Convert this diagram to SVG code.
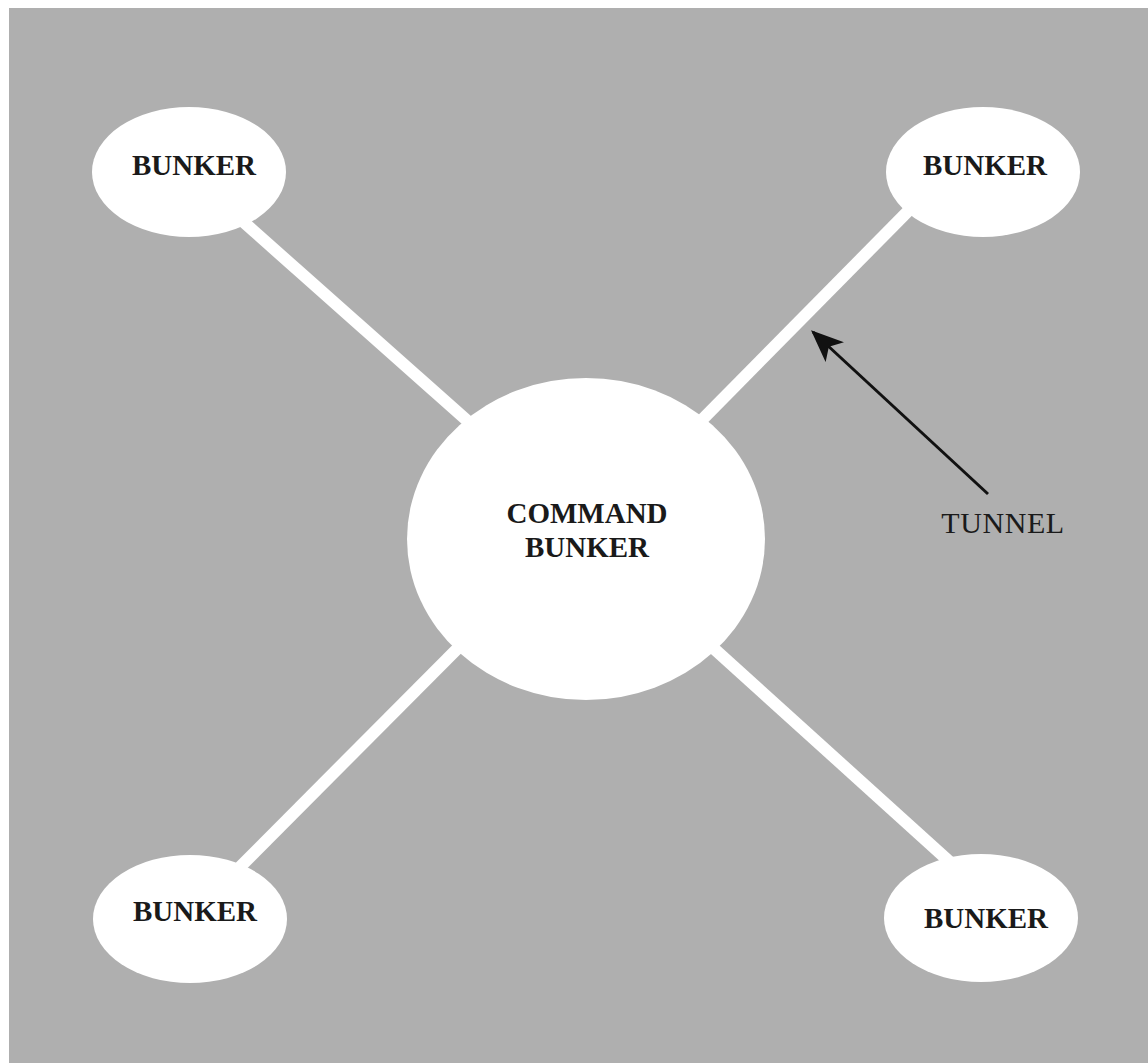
<svg xmlns="http://www.w3.org/2000/svg" width="1148" height="1063" viewBox="0 0 1148 1063">
  <style>
    .tunnel { stroke: #ffffff; stroke-width: 12; fill: none; }
    .bunker { fill: #ffffff; }
    .label { font-family: "Liberation Serif", "Times New Roman", serif; font-size: 29px; font-weight: bold; fill: #1a1a1a; text-anchor: middle; }
    .note { font-family: "Liberation Serif", "Times New Roman", serif; font-size: 30px; fill: #1a1a1a; text-anchor: middle; letter-spacing: 0.6px; }
  </style>
  <defs>
    <marker id="arrowhead" viewBox="0 0 12 10" refX="11" refY="5" markerWidth="11" markerHeight="9" markerUnits="strokeWidth" orient="auto">
      <path d="M0,0 L12,5 L0,10 L3,5 Z" fill="#111111"/>
    </marker>
  </defs>

  <rect x="0" y="0" width="1148" height="1063" fill="#ffffff"/>
  <rect x="9" y="8" width="1139" height="1055" fill="#afafaf"/>

  <!-- tunnels linking the outer bunkers to the command bunker -->
  <g id="connectors">
    <line class="tunnel" x1="230" y1="210" x2="480" y2="432"/>
    <line class="tunnel" x1="920" y1="199" x2="690" y2="432"/>
    <line class="tunnel" x1="470" y1="636" x2="232" y2="875"/>
    <line class="tunnel" x1="700" y1="636" x2="962" y2="873"/>
    <line x1="988" y1="494" x2="813" y2="332" stroke="#111111" stroke-width="3" marker-end="url(#arrowhead)"/>
  </g>

  <g id="bunker-nw">
    <ellipse class="bunker" cx="189" cy="172" rx="97" ry="65"/>
    <text class="label" x="194" y="175">BUNKER</text>
  </g>
  <g id="bunker-ne">
    <ellipse class="bunker" cx="983" cy="172" rx="97" ry="65"/>
    <text class="label" x="985" y="175">BUNKER</text>
  </g>
  <g id="bunker-sw">
    <ellipse class="bunker" cx="190" cy="919" rx="97" ry="64"/>
    <text class="label" x="195" y="921">BUNKER</text>
  </g>
  <g id="bunker-se">
    <ellipse class="bunker" cx="981" cy="918" rx="97" ry="64"/>
    <text class="label" x="986" y="928">BUNKER</text>
  </g>
  <g id="command-bunker">
    <ellipse class="bunker" cx="586" cy="539" rx="179" ry="161"/>
    <text class="label" x="587" y="523">COMMAND</text>
    <text class="label" x="587" y="557">BUNKER</text>
  </g>
  <g id="tunnel-label">
    <text class="note" x="1003" y="533">TUNNEL</text>
  </g>
</svg>
